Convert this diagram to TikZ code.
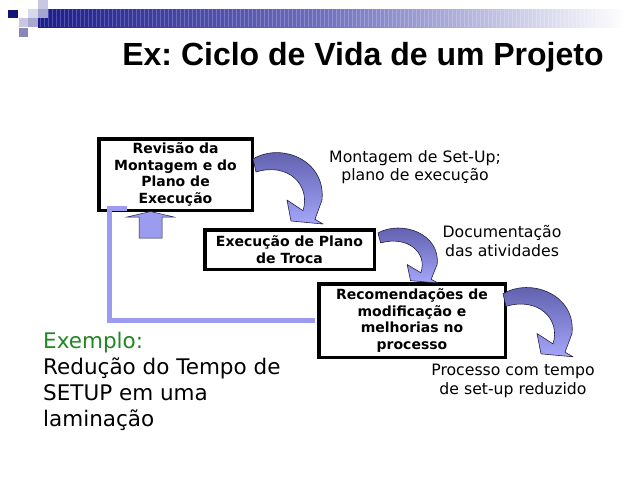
\documentclass[tikz,border=0pt]{standalone}
\usepackage{fontspec}
\setmainfont{DejaVu Sans}
\newfontfamily\titlefont{Liberation Sans}
\definecolor{navy}{RGB}{28,28,140}
\definecolor{barmid}{RGB}{110,110,190}
\definecolor{arrdark}{RGB}{88,88,165}
\definecolor{arrlight}{RGB}{165,165,250}
\definecolor{arredge}{RGB}{35,35,70}
\definecolor{fbcol}{RGB}{155,155,240}
\definecolor{exgreen}{RGB}{34,135,34}
\frenchspacing
\begin{document}
\begin{tikzpicture}[x=1pt,y=-1pt,
  box/.style={draw=black, line width=3.5pt, fill=white, align=center, inner sep=0pt,
    font=\bfseries\fontsize{14}{16.8}\selectfont},
  lbl/.style={align=center, inner sep=0pt, font=\fontsize{15.7}{18.5}\selectfont},
  carrow/.style={draw=arredge, line width=0.6pt, top color=arrdark, bottom color=arrlight, line join=round},
  fb/.style={draw=fbcol, line width=5pt},
  blockarrow/.style={fill=fbcol, draw=arredge, line width=0.5pt},
  sq/.style={draw=none}]
\useasboundingbox (0,0) rectangle (638,479);
\fill[white] (0,0) rectangle (638,479);

% header bar
\shade[left color=navy, right color=barmid] (38,9) rectangle (320,27);
\shade[left color=barmid, right color=white] (319.5,9) rectangle (625,27);
\foreach \i in {40,44,...,600} \draw[white, opacity=0.22, line width=0.6pt] (\i,9) -- (\i,27);
% squares
\fill[sq, fill={rgb,255:red,200;green,200;blue,228}] (38,0) rectangle (48,9);
\fill[sq, fill={rgb,255:red,20;green,20;blue,120}] (8,10) rectangle (18,18);
\fill[sq, fill={rgb,255:red,216;green,216;blue,236}] (28,9) rectangle (38,18);
\fill[sq, fill={rgb,255:red,165;green,165;blue,210}] (38,9) rectangle (48,18);
\fill[sq, fill={rgb,255:red,200;green,200;blue,224}] (19,18) rectangle (28,27);
\fill[sq, fill={rgb,255:red,168;green,168;blue,208}] (28,18) rectangle (38,27);
\fill[sq, fill={rgb,255:red,136;green,136;blue,184}] (19,28) rectangle (28,37);

% title
\node[inner sep=0pt, font=\titlefont\bfseries\fontsize{32}{36}\selectfont] (title) at (363,57) {Ex: Ciclo de Vida de um Projeto};

% boxes
\node[box, minimum width=153.5pt, minimum height=71.5pt] (b1) at (175.5,174.5)
  {Revisão da\\Montagem e do\\Plano de\\Execução};
\node[box, minimum width=169.5pt, minimum height=39.5pt] (b2) at (289.5,249.5)
  {Execução de Plano\\de Troca};
\node[box, minimum width=186.5pt, minimum height=73.5pt] (b3) at (412,320.5)
  {Recomendações de\\modificação e\\melhorias no\\processo};

% curved arrows
\newcommand{\curvedarrowshape}{%
  \path[carrow] (0,9) .. controls (28,-8) and (73,10) .. (69,50)
    -- (62,69.3) -- (70,74) -- (38,71) -- (34,50) -- (50,60.7)
    .. controls (58,35) and (35,12) .. (3,22) -- cycle;}
\begin{scope}[shift={(253,150)}]
  \curvedarrowshape
\end{scope}
\begin{scope}[shift={(378,226)}, xscale=0.857, yscale=0.77]
  \curvedarrowshape
\end{scope}
\begin{scope}[shift={(503,285)}, xscale=1.0, yscale=0.97]
  \curvedarrowshape
\end{scope}

% feedback line
\coordinate (fbend) at (127,208);
\draw[fb, shorten >=1.75pt] (fbend) -- (109.5,208) |- (b3.west);

% up block arrow
\path[blockarrow] (139,238) -- (139,217) -- (127,217) -- (150.5,211.5) -- (174,217) -- (162,217) -- (162,238) -- cycle;

% labels
\node[lbl] (l1) at (415,167) {Montagem de Set-Up;\\plano de execução};
\node[lbl] (l2) at (502,241) {Documentação\\das atividades};
\node[lbl] (l3) at (513,381) {Processo com tempo\\de set-up reduzido};

\node[inner sep=0pt, anchor=west, align=left, font=\fontsize{21.5}{26}\selectfont] (ex) at (43,381)
  {\textcolor{exgreen}{Exemplo:}\\Redução do Tempo de\\SETUP em uma\\laminação};
\end{tikzpicture}
\end{document}
